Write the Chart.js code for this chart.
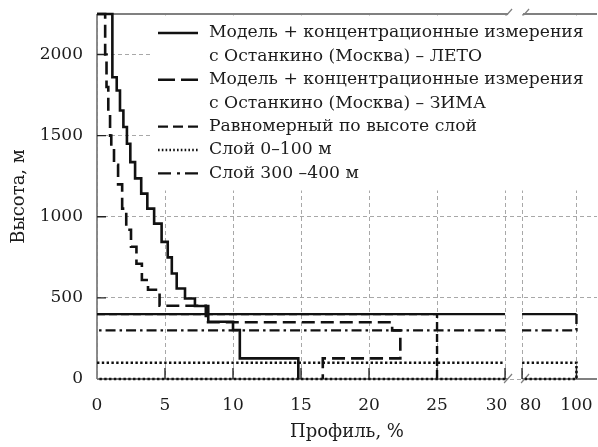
<!DOCTYPE html>
<html>
<head>
<meta charset="utf-8">
<script src="https://cdn.jsdelivr.net/npm/chart.js@4.4.0/dist/chart.umd.min.js"></script>
<style>
html, body { margin: 0; padding: 0; background: #fff; }
</style>
</head>
<body>
<canvas id="can" width="598" height="447"></canvas>
<script>
// step profiles: layer boundaries (m) and the profile value in each layer (%)
const letoH = [2250, 1860, 1778, 1655, 1553, 1450, 1337, 1237, 1143, 1050, 958, 845, 750, 650, 558, 496, 450, 353, 302, 127, 0]
const letoX = [1.13, 1.45, 1.69, 1.94, 2.2, 2.45, 2.8, 3.25, 3.7, 4.2, 4.75, 5.2, 5.5, 5.86, 6.47, 7.2, 8.18, 10.0, 10.5, 14.8]

const zimaH = [2250, 2000, 1800, 1650, 1500, 1420, 1320, 1200, 1050, 920, 815, 710, 610, 550, 452, 350, 300, 127, 0]
const zimaX = [0.6, 0.7, 0.83, 0.96, 1.05, 1.25, 1.55, 1.85, 2.15, 2.5, 2.9, 3.3, 3.75, 4.6, 8.0, 21.7, 22.3, 16.6]

const uniformH = [400, 0]
const uniformX = [25]

const layer0H = [100, 0]
const layer0X = [100]

const layer300H = [400, 300]
const layer300X = [100]

const xTickVals = [0, 5, 10, 15, 20, 25, 30, 80, 100]
const xTickText = ['0', '5', '10', '15', '20', '25', '30\u2003', '\u200380', '100']
const yTickVals = [0, 500, 1000, 1500, 2000]

// broken x axis: 0..30 keeps its scale, 80..100 is squeezed after a small gap
const GAP = 1.25
const SQUEEZE = 0.2
function tx(v) {
    if (v <= 30) return v
    return 30 + GAP + (v - 80) * SQUEEZE
}
const xMax = 36.76

function steps(H, X, back) {
    let pts = [{x: 0, y: H[0]}]
    for (let i = 0; i < X.length; i++) {
        pts.push({x: X[i], y: H[i]})
        pts.push({x: X[i], y: H[i + 1]})
    }
    if (back) pts.push({x: 0, y: H[H.length - 1]})
    // cut lines where they cross the axis break
    let out = []
    for (let i = 0; i < pts.length; i++) {
        let p = pts[i]
        if (i > 0) {
            let q = pts[i - 1]
            if ((q.x <= 30 && p.x >= 80) || (q.x >= 80 && p.x <= 30)) {
                let a = q.x <= 30 ? 30 : 80
                let b = q.x <= 30 ? 80 : 30
                out.push({x: tx(a), y: q.y})
                out.push({x: tx(a), y: null})
                out.push({x: tx(b), y: p.y})
            }
        }
        out.push({x: tx(p.x), y: p.y})
    }
    return out
}

const family = '"DejaVu Serif", "Liberation Serif", serif'
const tickFont = {family: family, size: 17}
const titleFont = {family: family, size: 18}
const legendSize = 17.2
const txtColor = '#1c1c1c'

const datasets = [
    {
        label: 'ЛЕТО',
        lines: ['Модель + концентрационные измерения', 'с Останкино (Москва) – ЛЕТО'],
        data: steps(letoH, letoX, false),
        borderWidth: 2.6,
        borderDash: [],
        legendDash: []
    },
    {
        label: 'ЗИМА',
        lines: ['Модель + концентрационные измерения', 'с Останкино (Москва) – ЗИМА'],
        data: steps(zimaH, zimaX, false),
        borderWidth: 2.6,
        borderDash: [13, 6],
        legendDash: [17, 6]
    },
    {
        label: 'Равномерный',
        lines: ['Равномерный по высоте слой'],
        data: steps(uniformH, uniformX, false),
        borderWidth: 2.4,
        borderDash: [8, 4],
        legendDash: [10, 5]
    },
    {
        label: 'Слой 0–100',
        lines: ['Слой 0–100 м'],
        data: steps(layer0H, layer0X, true),
        borderWidth: 2.6,
        borderDash: [2.4, 2.4],
        legendDash: [1.6, 2.2]
    },
    {
        label: 'Слой 300–400',
        lines: ['Слой 300 –400 м'],
        data: steps(layer300H, layer300X, true),
        borderWidth: 2.4,
        borderDash: [10, 4, 2.5, 4],
        legendDash: [13, 6, 3, 5],
        segment: {
            borderDash: ctx => (ctx.p0.parsed.y === 400 && ctx.p1.parsed.y === 400) ? [] : undefined
        }
    }
]

datasets.forEach(ds => {
    ds.borderColor = '#111'
    ds.pointRadius = 0
    ds.showLine = true
    ds.fill = false
    ds.tension = 0
    ds.spanGaps = false
    ds.clip = 4
})

const frame = {
    id: 'frame',
    beforeDraw(chart) {
        const c = chart.ctx
        c.save()
        c.fillStyle = '#fff'
        c.fillRect(0, 0, chart.width, chart.height)
        c.restore()
    },
    beforeDatasetsDraw(chart) {
        const c = chart.ctx, a = chart.chartArea
        const xs = chart.scales.x, ys = chart.scales.y
        const b1 = xs.getPixelForValue(tx(30)) + 3
        const b2 = xs.getPixelForValue(tx(80)) + 3
        c.save()
        c.strokeStyle = '#808080'
        c.lineWidth = 1.8
        c.beginPath()
        c.moveTo(a.left, a.top); c.lineTo(a.left, a.bottom)
        c.moveTo(a.left, a.bottom); c.lineTo(b1, a.bottom)
        c.moveTo(b2 - 2, a.bottom); c.lineTo(a.right, a.bottom)
        c.moveTo(a.left, a.top); c.lineTo(b1, a.top)
        c.moveTo(b2 - 2, a.top); c.lineTo(a.right, a.top)
        c.stroke()
        c.lineWidth = 1.2
        c.beginPath()
        for (const y of [a.top, a.bottom]) {
            for (const x of [b1, b2]) {
                c.moveTo(x - 4, y + 4)
                c.lineTo(x + 4, y - 5)
            }
        }
        c.stroke()
        // ticks point inward
        c.strokeStyle = '#222'
        c.lineWidth = 1.4
        c.beginPath()
        xs.ticks.forEach(t => {
            const px = xs.getPixelForValue(t.value)
            if (px <= a.left + 1) return
            c.moveTo(px, a.bottom); c.lineTo(px, a.bottom - 11)
        })
        ys.ticks.forEach(t => {
            const py = ys.getPixelForValue(t.value)
            if (py >= a.bottom - 1) return
            c.moveTo(a.left, py); c.lineTo(a.left + 9, py)
        })
        c.stroke()
        c.restore()
    },
    afterDraw(chart) {
        const c = chart.ctx, a = chart.chartArea
        c.save()
        c.fillStyle = '#fff'
        c.fillRect(153, a.top + 1.5, a.right - 153, 175)
        c.font = legendSize + 'px ' + family
        c.textBaseline = 'middle'
        c.textAlign = 'left'
        let y = 33
        chart.data.datasets.forEach(ds => {
            c.beginPath()
            c.setLineDash(ds.legendDash)
            c.lineWidth = ds.borderWidth
            c.strokeStyle = '#111'
            c.moveTo(158, y); c.lineTo(198, y)
            c.stroke()
            c.fillStyle = txtColor
            ds.lines.forEach(line => {
                c.fillText(line, 209, y)
                y += 23.4
            })
        })
        c.restore()
    }
}

const config = {
    type: 'scatter',
    data: {datasets},
    options: {
        responsive: false,
        animation: false,
        events: [],
        layout: {padding: {top: 14, right: 1, left: 0, bottom: 0}},
        plugins: {
            legend: {display: false},
            tooltip: {enabled: false}
        },
        scales: {
            x: {
                type: 'linear',
                min: 0,
                max: xMax,
                afterBuildTicks: s => { s.ticks = xTickVals.map(v => ({value: tx(v)})) },
                afterFit: s => {
                    s.height = 68
                    s.paddingLeft = 0
                    s.paddingRight = 0
                },
                ticks: {
                    callback: (v, i) => xTickText[i],
                    font: tickFont,
                    color: txtColor,
                    padding: 16,
                    maxRotation: 0,
                    autoSkip: false
                },
                grid: {color: '#a8a8a8', lineWidth: 1, drawTicks: false},
                border: {display: false, dash: [4, 3]},
                title: {display: true, text: 'Профиль, %', font: titleFont, color: txtColor, padding: {top: 0, bottom: 4}}
            },
            y: {
                type: 'linear',
                min: 0,
                max: 2250,
                afterBuildTicks: s => { s.ticks = yTickVals.map(v => ({value: v})) },
                afterFit: s => {
                    s.width = 97
                    s.paddingTop = 0
                    s.paddingBottom = 0
                },
                ticks: {font: tickFont, color: txtColor, padding: 14, callback: v => String(v)},
                grid: {color: '#a8a8a8', lineWidth: 1, drawTicks: false},
                border: {display: false, dash: [4, 3]},
                title: {display: true, text: 'Высота, м', font: titleFont, color: txtColor, padding: {top: 9, bottom: 4}}
            }
        }
    },
    plugins: [frame]
}

let chart = new Chart(document.getElementById('can'), config)
</script>
</body>
</html>
